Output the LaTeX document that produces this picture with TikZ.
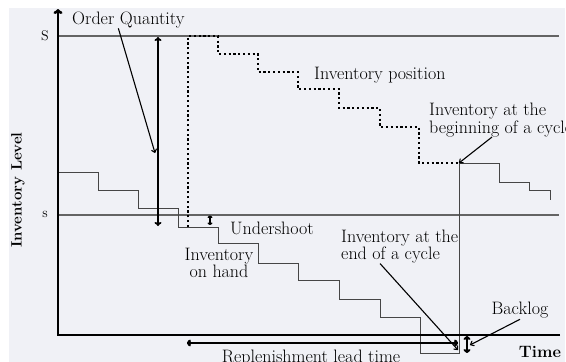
\documentclass[tikz,border=0pt]{standalone}
\usetikzlibrary{arrows.meta}
\definecolor{bg}{RGB}{240,241,246}
\definecolor{lvl}{RGB}{100,100,100}
\definecolor{stp}{RGB}{70,70,70}
\begin{document}
\begin{tikzpicture}[x=1pt,y=-1pt,
  lbl/.style={font=\fontsize{18}{17.5}\selectfont, inner sep=0pt, align=left},
  ptr/.style={line width=1.1pt, -{To[length=4pt,width=6pt]}},
  dbl/.style={<->, >={To[length=4pt,width=7pt]}},
  level/.style={lvl, line width=2pt},
  stepline/.style={stp, line width=1pt},
  posline/.style={line width=2.3pt, dash pattern=on 2.2pt off 2.6pt}]
\useasboundingbox (0,0) rectangle (566,362);
\fill[bg] (9,8) rectangle (565,362);
% levels S and s
\draw[level] (58,36) -- (559,36);
\draw[level] (58,215) -- (559,215);
% inventory on hand
\draw[stepline] (58,172) -| (98,190) -| (138,208) -| (178,227) -| (218,243)
  -| (258,263) -| (298,280) -| (339,299) -| (380,317) -| (420,353)
  -| (459,163) -| (499,182) -| (529,190) -| (550,200);
% inventory position
\draw[posline] (188,227) |- (218,36) |- (258,54) |- (298,72) |- (339,89)
  |- (380,108) |- (419,127) |- (459,163);
% axes
\draw[line width=2.6pt, -{To[length=5pt,width=9pt]}] (560,335) -- (58,335) -- (58,9);
% arrows
\draw[dbl, line width=1.8pt] (158,37) -- (158,226);
\draw[<->, >={To[length=2.5pt,width=5pt]}, line width=1.4pt] (210,215.5) -- (210,225);
\draw[dbl, line width=2pt] (467,336) -- (467,353);
\draw[dbl, line width=2.6pt] (187,343) -- (458,343);
% labels
\node[font=\fontsize{14}{15}\selectfont, inner sep=0pt] (S) at (45,36) {S};
\node[font=\fontsize{14}{15}\selectfont, inner sep=0pt] (s) at (45,214) {s};
\node[font=\fontsize{15}{17}\selectfont\bfseries, rotate=90, inner sep=0pt] (yl) at (18,190) {Inventory Level};
\node[font=\fontsize{16.5}{17}\selectfont\bfseries, inner sep=0pt, anchor=base] (tl) at (540,357) {Time};
\node[lbl, anchor=west] (oq) at (72,20) {Order Quantity};
\node[lbl, anchor=west] (ip) at (314,75) {Inventory position};
\node[lbl, anchor=west] (ibc) at (429,120) {Inventory at the\\beginning of a cycle};
\node[lbl, anchor=west] (iec) at (341,246.5) {Inventory at the\\end of a cycle};
\node[lbl, align=center] (ioh) at (219,263) {Inventory\\on hand};
\node[lbl, anchor=west] (us) at (230,228) {Undershoot};
\node[lbl] (bl) at (520,310) {Backlog};
\node[lbl, anchor=base] (rlt) at (311,362) {Replenishment lead time};
% pointer targets
\coordinate (oqt) at (155,153);
\coordinate (ibct) at (459,163);
\coordinate (iect) at (458,350);
\coordinate (blt) at (470,345);
\draw[ptr] ([xshift=-10pt]oq.south) -- (oqt);
\draw[ptr] ([xshift=63pt]ibc.south west) -- (ibct);
\draw[ptr] ([xshift=39pt]iec.south west) -- (iect);
\draw[ptr] ([xshift=0pt,yshift=-1pt]bl.south) -- (blt);
\end{tikzpicture}
\end{document}
